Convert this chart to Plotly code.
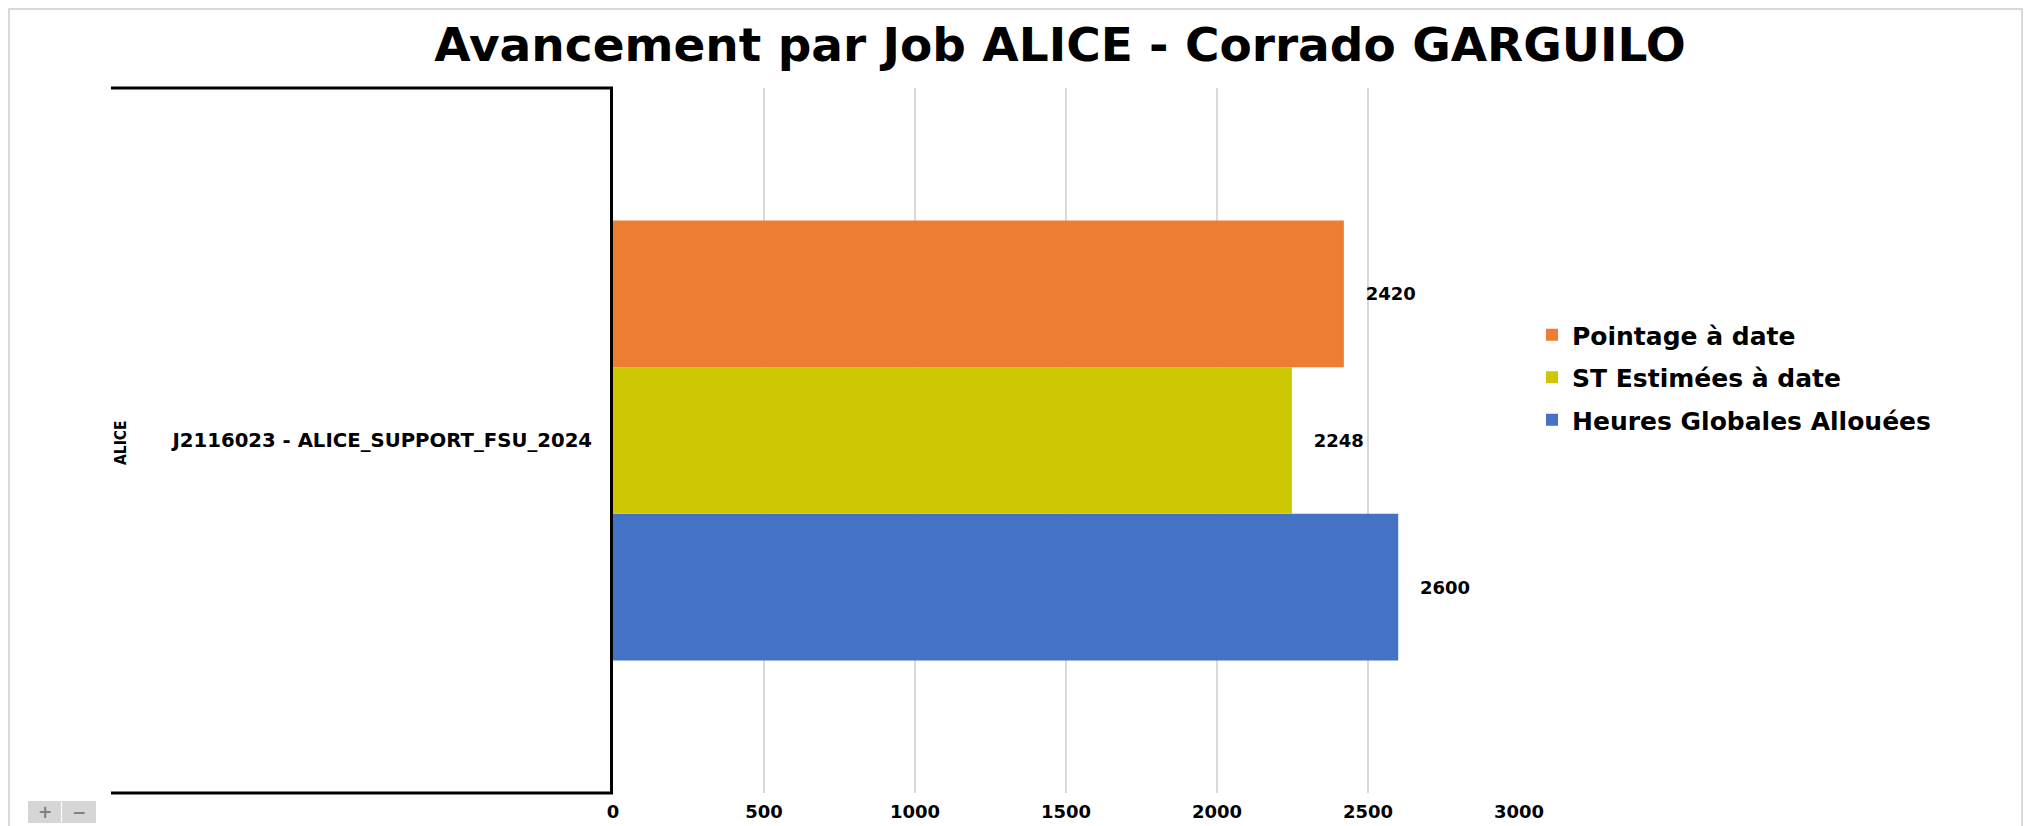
import plotly.graph_objects as go

# ---- data ----
categories = ["J2116023 - ALICE_SUPPORT_FSU_2024"]
group_label = "ALICE"
series_names = ["Heures Globales Allouées", "ST Estimées à date", "Pointage à date"]
series_values = [[2600], [2248], [2420]]
series_colors = ["#4472C4", "#CEC804", "#ED7D31"]
legend_ranks = [3, 2, 1]
x_ticks = [0, 500, 1000, 1500, 2000, 2500, 3000]
title_text = "Avancement par Job ALICE - Corrado GARGUILO"

W, H = 2031, 826
OFF = 8  # page body margin
# plot area in page pixels
PL, PR, PT, PB = 613, 1519, 88, 793
L, T = PL - OFF, PT - OFF
R = W - (PR - OFF)
B = H - (PB - OFF)
pw, ph = PR - PL, PB - PT


def px(x):
    return (x - PL) / pw


def py(y):
    return (PB - y) / ph


FONT = "DejaVu Sans, Verdana, sans-serif"

fig = go.Figure()
for name, vals, col, rank in zip(series_names, series_values, series_colors, legend_ranks):
    fig.add_trace(go.Bar(
        y=categories, x=vals, name=name, orientation="h",
        marker=dict(color=col, line=dict(width=0)),
        text=vals, texttemplate="\u00a0\u00a0\u00a0%{x}", textposition="outside",
        textfont=dict(family=FONT, size=18, color="#000000", weight="bold"),
        cliponaxis=False, legendgroup=name, legendrank=rank,
    ))

shapes = [
    # chart frame
    dict(type="rect", xref="paper", yref="paper", x0=px(9), x1=px(2022), y0=py(840), y1=py(9),
         line=dict(color="#D9D9D9", width=2), fillcolor="rgba(0,0,0,0)", layer="below"),
    # category bracket lines
    dict(type="line", xref="paper", yref="paper", x0=px(111), x1=0, y0=1, y1=1,
         line=dict(color="#000000", width=3)),
    dict(type="line", xref="paper", yref="paper", x0=px(111), x1=0, y0=0, y1=0,
         line=dict(color="#000000", width=3)),
    # zoom buttons
    dict(type="rect", xref="paper", yref="paper", x0=px(28), x1=px(61), y0=py(823), y1=py(801),
         line=dict(width=0), fillcolor="#D6D6D6"),
    dict(type="rect", xref="paper", yref="paper", x0=px(62), x1=px(96), y0=py(823), y1=py(801),
         line=dict(width=0), fillcolor="#D6D6D6"),
]

annotations = [
    dict(text=group_label, xref="paper", yref="paper", x=px(121), y=py(443), showarrow=False,
         textangle=-90, xanchor="center", yanchor="middle",
         font=dict(family="DejaVu Sans Condensed, DejaVu Sans, sans-serif", size=15.5,
                   color="#000000", weight="bold")),
    dict(text="+", xref="paper", yref="paper", x=px(44.5), y=py(812), showarrow=False,
         xanchor="center", yanchor="middle", font=dict(family=FONT, size=17, color="#808080", weight="bold")),
    dict(text="\u2212", xref="paper", yref="paper", x=px(79), y=py(812), showarrow=False,
         xanchor="center", yanchor="middle", font=dict(family=FONT, size=17, color="#808080", weight="bold")),
]

fig.update_layout(
    width=W, height=H,
    margin=dict(l=L, r=R, t=T, b=B, autoexpand=False),
    paper_bgcolor="#FFFFFF", plot_bgcolor="#FFFFFF",
    barmode="group", bargap=0.376, bargroupgap=0,
    title=dict(text=title_text, x=(1060 - OFF) / W, xanchor="center", y=1 - (45 - OFF) / H,
               yanchor="middle", xref="container", yref="container",
               font=dict(family=FONT, size=47, color="#000000", weight="bold")),
    xaxis=dict(range=[0, 3000], tickvals=x_ticks, showgrid=True, gridcolor="#D9D9D9", gridwidth=2,
               zeroline=False, showline=False, ticks="", ticklabelstandoff=6,
               tickfont=dict(family=FONT, size=18, color="#000000", weight="bold")),
    yaxis=dict(range=[-0.5, 0.5], showline=True, linecolor="#000000", linewidth=3,
               showgrid=False, ticks="", ticklabelstandoff=14,
               tickfont=dict(family=FONT, size=19.7, color="#000000", weight="bold")),
    legend=dict(x=px(1532), y=py(312), xanchor="left", yanchor="top",
                traceorder="grouped", tracegroupgap=7,
                font=dict(family=FONT, size=25, color="#000000", weight="bold"),
                bgcolor="rgba(0,0,0,0)"),
    shapes=shapes, annotations=annotations,
    showlegend=True,
)

fig.write_html("out.html")
